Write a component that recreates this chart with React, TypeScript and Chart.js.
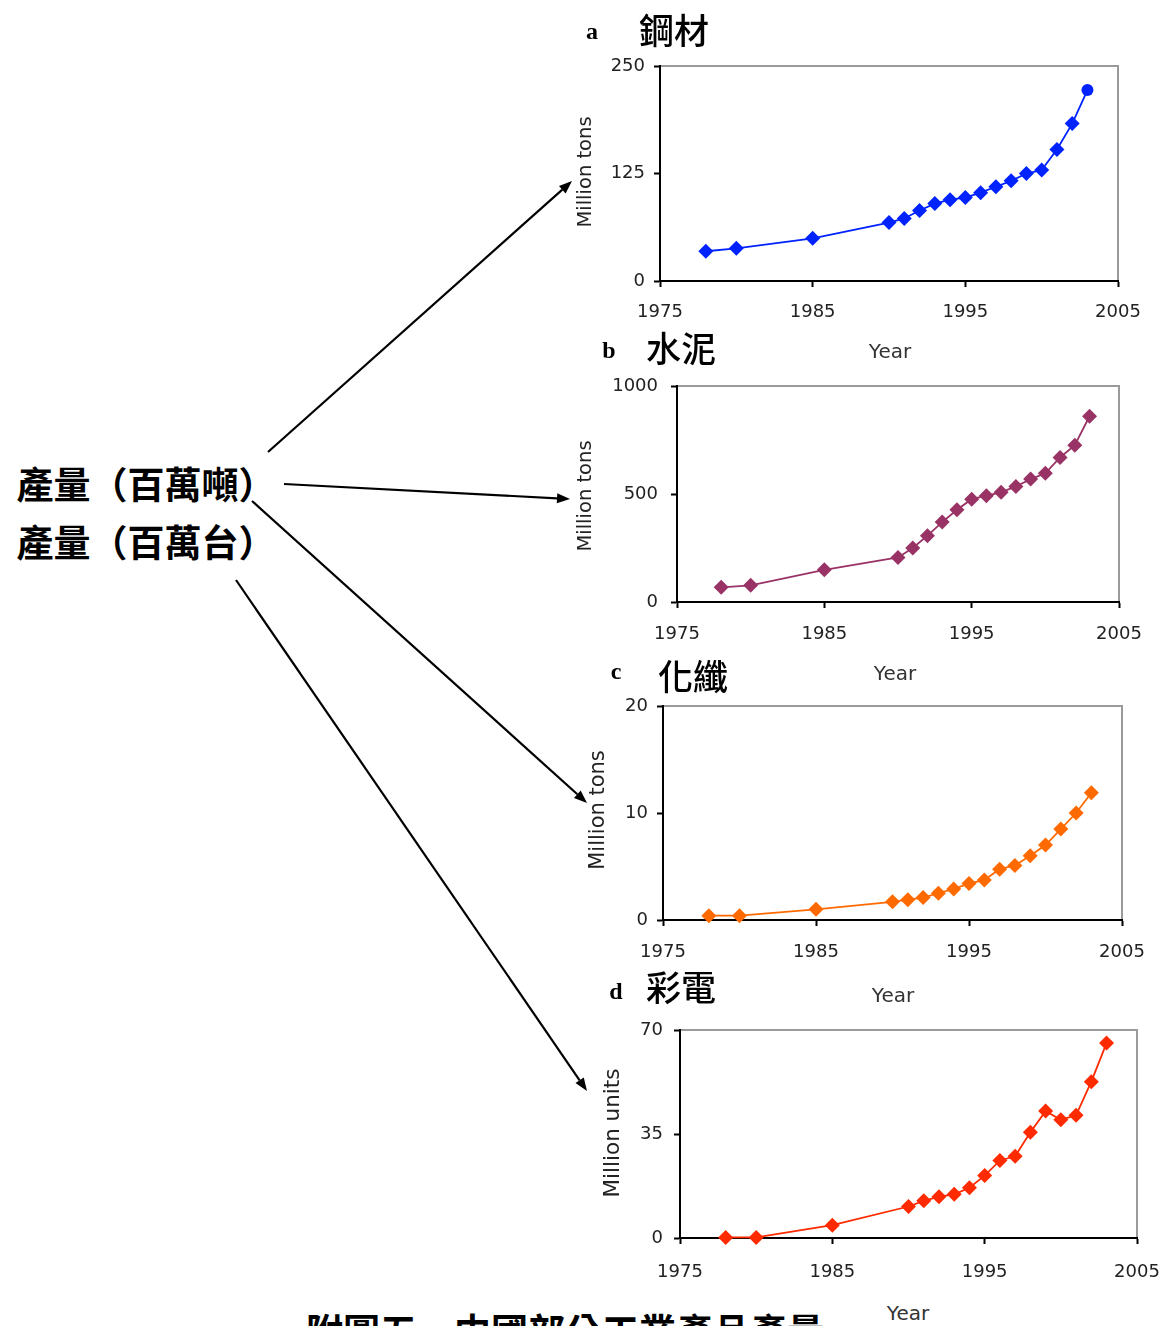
import React, { useEffect, useRef } from "react";
import { Chart, registerables } from "chart.js";

Chart.register(...registerables);

// ---------- data ----------
const years = [1978, 1980, 1985, 1990, 1991, 1992, 1993, 1994, 1995, 1996, 1997, 1998, 1999, 2000, 2001, 2002, 2003];
const steel = [34.6, 38, 49.6, 68, 72.7, 82, 90, 94.6, 97, 102.7, 109.6, 116.5, 125, 129, 153, 183, 222];
const cement = [68, 77, 149, 206, 250, 307, 370, 427, 476, 492, 508, 535, 569, 596, 669, 726, 860];
const fiber = [0.4, 0.4, 1.0, 1.7, 1.9, 2.1, 2.5, 2.9, 3.4, 3.75, 4.75, 5.1, 6.0, 7.0, 8.5, 10.0, 11.9];
const colorTV = [0.2, 0.2, 4.3, 10.6, 12.5, 13.9, 14.7, 16.9, 21, 26.1, 27.5, 35.6, 42.7, 39.8, 41.3, 52.6, 65.6];

const xTicks = [1975, 1985, 1995, 2005];
const steelTicks = [0, 125, 250];
const cementTicks = [0, 500, 1000];
const fiberTicks = [0, 10, 20];
const tvTicks = [0, 35, 70];

const panelLetters = ["a", "b", "c", "d"];
const panelNames = ["鋼材", "水泥", "化纖", "彩電"];
const yTitles = ["Million tons", "Million tons", "Million tons", "Million units"];
const xTitle = "Year";
const leftLabels = ["產量（百萬噸）", "產量（百萬台）"];
const caption = "附圖五　中國部分工業產品產量";

// ---------- layout ----------
type Panel = {
  values: number[];
  ticks: number[];
  color: string;
  L: number; T: number; R: number; B: number;
  yGap: number; xLabelPad: number;
  lastCircle?: boolean;
};

const panels: Panel[] = [
  { values: steel, ticks: steelTicks, color: "#0022ff", L: 660, T: 66, R: 1118, B: 281, yGap: 15, xLabelPad: 15, lastCircle: true },
  { values: cement, ticks: cementTicks, color: "#993366", L: 677, T: 386, R: 1119, B: 602, yGap: 19, xLabelPad: 16 },
  { values: fiber, ticks: fiberTicks, color: "#ff6a00", L: 663, T: 706, R: 1122, B: 920, yGap: 15, xLabelPad: 16 },
  { values: colorTV, ticks: tvTicks, color: "#ff2a00", L: 680, T: 1030, R: 1137, B: 1238, yGap: 17, xLabelPad: 18 },
];

const Y_W = 80;
const PAD_T = 32;
const PAD_R = 52;
const X_H = 50;

const framePlugin = {
  id: "grayFrame",
  beforeDraw(chart: any) {
    const { ctx, chartArea } = chart;
    ctx.save();
    ctx.strokeStyle = "#9a9a9a";
    ctx.lineWidth = 2;
    ctx.strokeRect(chartArea.left, chartArea.top, chartArea.right - chartArea.left, chartArea.bottom - chartArea.top);
    ctx.restore();
  },
};

function PanelChart({ p }: { p: Panel }) {
  const ref = useRef<HTMLCanvasElement | null>(null);
  const w = p.R - p.L + Y_W + PAD_R;
  const h = p.B - p.T + PAD_T + X_H;
  useEffect(() => {
    if (!ref.current) return;
    const tickFont = { family: "'DejaVu Sans', sans-serif", size: 18 };
    const last = years.length - 1;
    const chart = new Chart(ref.current, {
      type: "line",
      data: {
        datasets: [
          {
            data: years.map((y, i) => ({ x: y, y: p.values[i] })),
            borderColor: p.color,
            backgroundColor: p.color,
            borderWidth: 1.8,
            pointStyle: years.map((_, i) => (p.lastCircle && i === last ? "circle" : "rectRot")) as any,
            pointRadius: years.map((_, i) => (p.lastCircle && i === last ? 6 : 7.5)),
            pointBorderWidth: 0,
            tension: 0,
            clip: false as any,
          },
        ],
      },
      options: {
        animation: false,
        responsive: false,
        devicePixelRatio: 1,
        layout: { autoPadding: false, padding: { left: 0, top: PAD_T, right: PAD_R, bottom: 0 } },
        plugins: { legend: { display: false }, tooltip: { enabled: false } },
        scales: {
          x: {
            type: "linear",
            min: xTicks[0],
            max: xTicks[xTicks.length - 1],
            afterBuildTicks: (s: any) => {
              s.ticks = xTicks.map((v) => ({ value: v }));
            },
            afterFit: (s: any) => {
              s.height = X_H;
            },
            ticks: {
              font: tickFont,
              color: "#222",
              padding: p.xLabelPad,
              maxRotation: 0,
              autoSkip: false,
              callback: (v: any) => String(v),
            },
            grid: { drawOnChartArea: false, drawTicks: true, tickLength: 6, tickColor: "#000", tickWidth: 2 },
            border: { display: true, color: "#000", width: 2 },
          },
          y: {
            type: "linear",
            min: p.ticks[0],
            max: p.ticks[p.ticks.length - 1],
            afterBuildTicks: (s: any) => {
              s.ticks = p.ticks.map((v) => ({ value: v }));
            },
            afterFit: (s: any) => {
              s.width = Y_W;
            },
            ticks: {
              font: tickFont,
              color: "#222",
              padding: p.yGap - 6,
              callback: (v: any) => String(v),
            },
            grid: { drawOnChartArea: false, drawTicks: true, tickLength: 6, tickColor: "#000", tickWidth: 2 },
            border: { display: true, color: "#000", width: 2 },
          },
        },
      },
      plugins: [framePlugin],
    } as any);
    return () => chart.destroy();
  }, []);
  return (
    <canvas
      ref={ref}
      width={w}
      height={h}
      style={{ position: "absolute", left: p.L - Y_W, top: p.T - PAD_T, width: w, height: h }}
    />
  );
}

function Txt({ x, y, children, style }: { x: number; y: number; children: any; style?: any }) {
  return (
    <div
      style={{
        position: "absolute",
        left: x,
        top: y,
        transform: "translate(-50%, -50%)",
        whiteSpace: "nowrap",
        lineHeight: 1,
        ...style,
      }}
    >
      {children}
    </div>
  );
}

const arrows = [
  [268, 452, 572, 181],
  [284, 484, 570, 499],
  [252, 501, 587, 803],
  [236, 580, 587, 1091],
];

function Arrow({ a }: { a: number[] }) {
  const [x1, y1, x2, y2] = a;
  const ang = Math.atan2(y2 - y1, x2 - x1);
  const len = 13;
  const wid = 5;
  const bx = x2 - len * Math.cos(ang);
  const by = y2 - len * Math.sin(ang);
  const px = -Math.sin(ang) * wid;
  const py = Math.cos(ang) * wid;
  return (
    <g>
      <line x1={x1} y1={y1} x2={bx} y2={by} stroke="#000" strokeWidth={2.2} />
      <polygon points={`${x2},${y2} ${bx + px},${by + py} ${bx - px},${by - py}`} fill="#000" />
    </g>
  );
}

export default function App() {
  const cjk = "'Noto Sans CJK TC', 'Noto Sans CJK SC', sans-serif";
  const sans = "'DejaVu Sans', sans-serif";
  const serif = "'Liberation Serif', 'DejaVu Serif', serif";
  const letterPos = [
    [592, 31],
    [609, 350],
    [616, 671],
    [616, 991],
  ];
  const namePos = [
    [674, 28],
    [681, 346],
    [693, 674],
    [681, 985],
  ];
  const yearPos = [
    [890, 351],
    [895, 673],
    [893, 995],
    [908, 1313],
  ];
  const yTitlePos = [
    [585, 172, 19.5],
    [585, 496, 19.5],
    [597, 810, 21],
    [612, 1133, 21.5],
  ];
  return (
    <div
      style={{
        position: "absolute",
        left: 0,
        top: 0,
        width: 1164,
        height: 1326,
        overflow: "hidden",
        background: "#fff",
      }}
    >
      {panels.map((p, i) => (
        <PanelChart key={i} p={p} />
      ))}
      {panelLetters.map((t, i) => (
        <Txt key={"l" + i} x={letterPos[i][0]} y={letterPos[i][1]} style={{ fontFamily: serif, fontWeight: "bold", fontSize: 24 }}>
          {t}
        </Txt>
      ))}
      {panelNames.map((t, i) => (
        <Txt key={"n" + i} x={namePos[i][0]} y={namePos[i][1]} style={{ fontFamily: cjk, fontWeight: 500, fontSize: 35 }}>
          {t}
        </Txt>
      ))}
      {yearPos.map((pp, i) => (
        <Txt key={"y" + i} x={pp[0]} y={pp[1]} style={{ fontFamily: sans, fontSize: 20, color: "#333" }}>
          {xTitle}
        </Txt>
      ))}
      {yTitlePos.map((pp, i) => (
        <Txt
          key={"t" + i}
          x={pp[0]}
          y={pp[1]}
          style={{ fontFamily: sans, fontSize: pp[2], color: "#222", transform: "translate(-50%, -50%) rotate(-90deg)" }}
        >
          {yTitles[i]}
        </Txt>
      ))}
      <Txt x={146} y={483} style={{ fontFamily: cjk, fontWeight: "bold", fontSize: 37 }}>
        {leftLabels[0]}
      </Txt>
      <Txt x={146} y={541} style={{ fontFamily: cjk, fontWeight: "bold", fontSize: 37 }}>
        {leftLabels[1]}
      </Txt>
      <Txt x={565} y={1330} style={{ fontFamily: cjk, fontWeight: "bold", fontSize: 37 }}>
        {caption}
      </Txt>
      <svg width={1164} height={1326} style={{ position: "absolute", left: 0, top: 0, pointerEvents: "none" }}>
        {arrows.map((a, i) => (
          <Arrow key={i} a={a} />
        ))}
      </svg>
    </div>
  );
}
